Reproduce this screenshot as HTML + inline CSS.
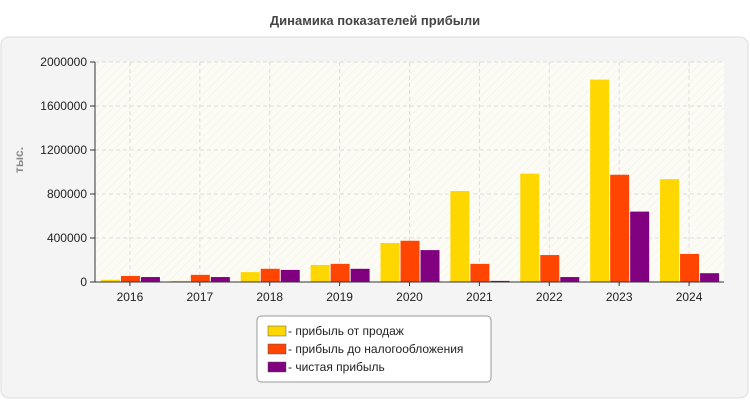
<!DOCTYPE html>
<html><head><meta charset="utf-8"><style>
body{margin:0;width:750px;height:400px;background:#fff;font-family:"Liberation Sans",sans-serif;overflow:hidden}
</style></head><body>
<svg width="750" height="400">
<defs><pattern id="h" width="6" height="6" patternUnits="userSpaceOnUse" patternTransform="rotate(45)"><line x1="0" y1="0" x2="0" y2="6" stroke="#eee" stroke-width="1"/></pattern></defs>
<text x="375" y="25" text-anchor="middle" font-size="13" font-weight="bold" fill="#444">Динамика показателей прибыли</text>
<rect x="1" y="37" width="747" height="361" rx="8" fill="#f4f4f4" stroke="#ddd"/>
<rect x="95" y="62" width="629" height="220" fill="#fcfcf4"/>
<rect x="95" y="62" width="629" height="220" fill="url(#h)"/>
<g id="grid"></g><g id="bars"></g><g id="axes"></g>
<text transform="translate(23,160) rotate(-90)" text-anchor="middle" font-size="12" font-weight="bold" fill="#888">тыс.</text>
<g>
<rect x="257" y="316" width="234" height="66" rx="4" fill="#fff" stroke="#999"/>
<g><rect x="268" y="326" width="18" height="10" fill="#ffd700" stroke="#555" stroke-width="0.5"/><text x="288" y="335" font-size="12" fill="#222">- прибыль от продаж</text></g>
<g><rect x="268" y="344" width="18" height="10" fill="#ff4500" stroke="#555" stroke-width="0.5"/><text x="288" y="353" font-size="12" fill="#222">- прибыль до налогообложения</text></g>
<g><rect x="268" y="362" width="18" height="10" fill="#800080" stroke="#555" stroke-width="0.5"/><text x="288" y="371" font-size="12" fill="#222">- чистая прибыль</text></g>
</g>
</svg>
<script>
const categories=["2016","2017","2018","2019","2020","2021","2022","2023","2024"];
const salesProfit=[20000,10000,90000,155000,355000,827000,985000,1840000,935000];
const pretaxProfit=[55000,65000,120000,165000,375000,165000,245000,975000,255000];
const netProfit=[45000,45000,110000,120000,290000,10000,45000,640000,80000];
const yTicks=[0,400000,800000,1200000,1600000,2000000];
const NS="http://www.w3.org/2000/svg";
const x0=95,x1=724,y0=282,y1=62,yMax=2000000;
const bw=(x1-x0)/categories.length;
const y=v=>y0-(v/yMax)*(y0-y1);
function mk(t,a,p){const e=document.createElementNS(NS,t);for(const k in a)e.setAttribute(k,a[k]);p.appendChild(e);return e;}
const g=document.getElementById('grid'),b=document.getElementById('bars'),ax=document.getElementById('axes');
yTicks.forEach(t=>{
 if(t>0){const l=mk('line',{x1:x0,x2:x1,y1:y(t),y2:y(t),stroke:'#ddd','stroke-dasharray':'4,3'},g);
 
 }
 mk('line',{x1:x0-5,x2:x0,y1:y(t),y2:y(t),stroke:'#333'},ax);
 const tx=mk('text',{x:x0-8,y:y(t)+4,'text-anchor':'end','font-size':12,fill:'#222'},ax);tx.textContent=t;
 
 
});
const series=[[salesProfit,'#ffd700','sales'],[pretaxProfit,'#ff4500','pretax'],[netProfit,'#800080','net']];
categories.forEach((c,i)=>{
 const cx=x0+bw*(i+0.5);
 const l=mk('line',{x1:cx,x2:cx,y1:y1,y2:y0,stroke:'#ddd','stroke-dasharray':'4,3'},g);
 
 
 series.forEach((s,j)=>{
  const v=s[0][i];
  const r=mk('rect',{x:cx-29+j*20,y:y(v),width:19,height:y0-y(v),fill:s[1]},b);
  
  
 });
 mk('line',{x1:cx,x2:cx,y1:y0,y2:y0+4,stroke:'#333'},ax);
 const tx=mk('text',{x:cx,y:y0+19,'text-anchor':'middle','font-size':12,fill:'#222'},ax);tx.textContent=c;
 
 
});
mk('line',{x1:x0,x2:x0,y1:y1,y2:y0,stroke:'#333'},ax);
mk('line',{x1:x0,x2:x1,y1:y0,y2:y0,stroke:'#333'},ax);
</script>
</body></html>
